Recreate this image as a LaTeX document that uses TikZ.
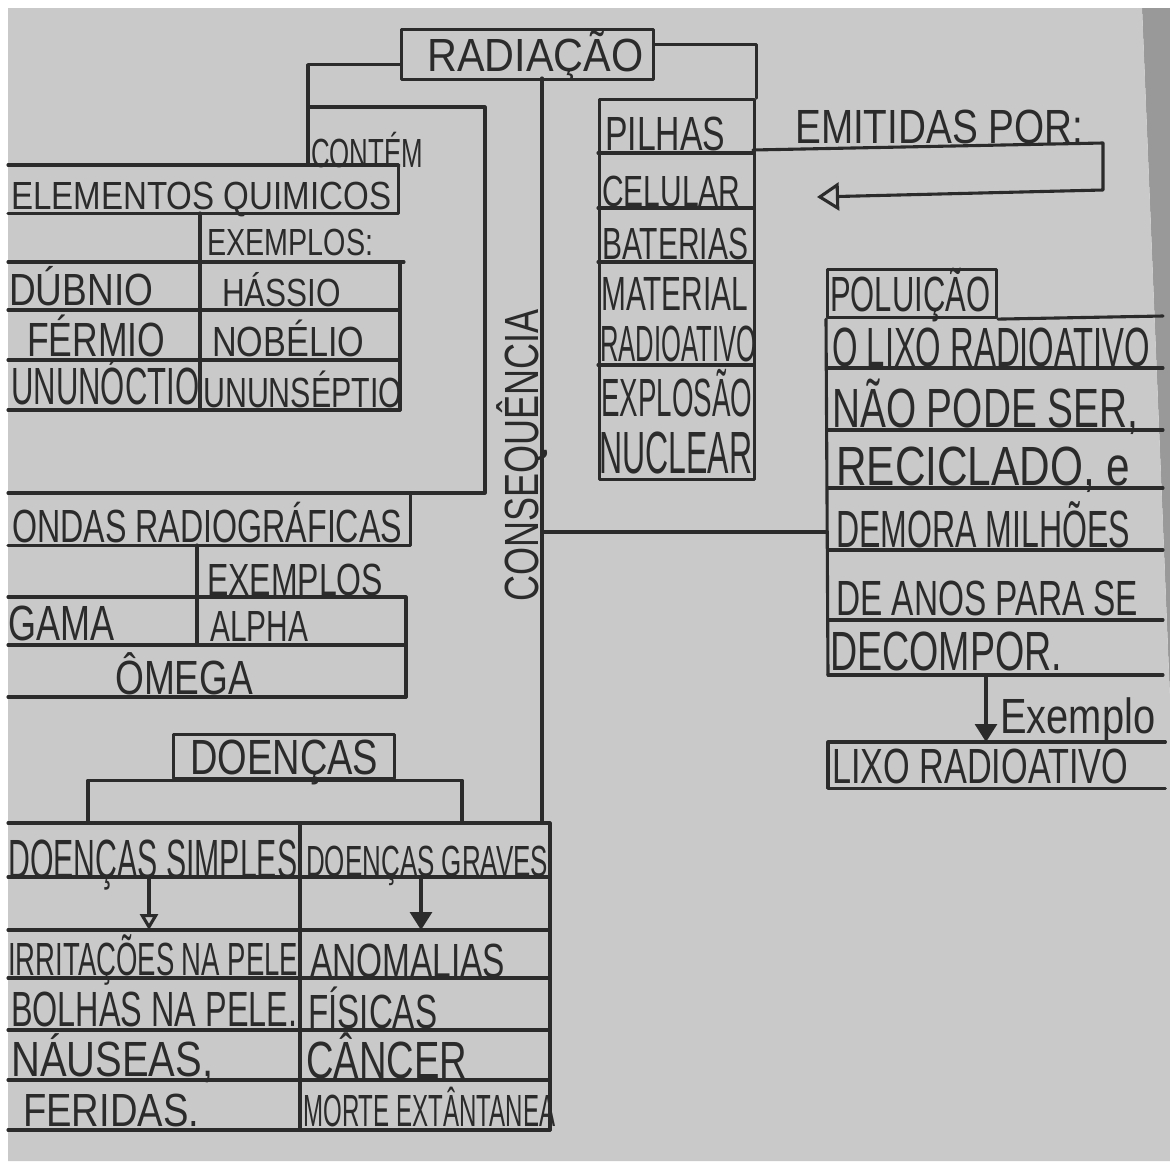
\documentclass[tikz,border=0pt]{standalone}
\usepackage{fontspec}
\setmainfont{Liberation Sans}
\usetikzlibrary{arrows.meta}
\definecolor{paper}{gray}{0.79}
\definecolor{ink}{gray}{0.17}
\definecolor{strip}{gray}{0.60}
\newcommand{\hw}[3]{\resizebox{#1pt}{#2pt}{\smash{#3}\vphantom{X}}}
\begin{document}
\begin{tikzpicture}[x=1pt,y=-1pt,
  ln/.style={draw=ink,line width=3.1pt,line cap=round,line join=round},
  tx/.style={inner sep=0pt,text=ink,anchor=south west},
  area/.style={inner sep=0pt,draw=none,anchor=north west},
  bx/.style={inner sep=0pt,ln,anchor=north west},
  opentip/.style={-{Triangle[open,length=22pt,width=28pt]}},
  filltip/.style={-{Triangle[length=18pt,width=22pt]}}]
\useasboundingbox (0,0) rectangle (1170,1167);
\fill[white] (0,0) rectangle (1170,1167);
\fill[strip] (1142,8) -- (1170,8) -- (1170,700) -- cycle;
\fill[paper] (8,8) -- (1142,8) -- (1170,700) -- (1170,1161) -- (8,1161) -- cycle;

% ---------- title ----------
\node[bx,minimum width=252pt,minimum height=50pt] (rad) at (400,28) {};
\node[tx] (trad) at (427,72) {\hw{216}{32}{RADIAÇÃO}};

% ---------- left branch: elementos ----------
\coordinate (elemtop) at (308,165);
\draw[ln] ([yshift=-10pt]rad.west) -| (elemtop);
\node[tx] (tcont) at (311,168) {\hw{112}{28}{CONTÉM}};
\node[area,minimum width=390pt,minimum height=48pt] (elem) at (8,165) {};
\draw[ln] (elem.north west) -- (elem.north east) -- (elem.south east) -- (elem.south west);
\node[tx] (telem) at (11,210) {\hw{380}{27}{ELEMENTOS QUIMICOS}};
\draw[ln] (200,213) -- (200,410);
\draw[ln] (8,262) -- (404,262);
\draw[ln] (400,262) -- (400,410);
\draw[ln] (8,310) -- (400,310);
\draw[ln] (8,360) -- (400,360);
\draw[ln] (8,410) -- (400,410);
\node[tx] (tex1) at (207,256) {\hw{166}{26}{EXEMPLOS:}};
\node[tx] (tdub) at (9,306) {\hw{144}{31}{DÚBNIO}};
\node[tx] (thas) at (222,307) {\hw{119}{27}{HÁSSIO}};
\node[tx] (tfer) at (27,357) {\hw{138}{33}{FÉRMIO}};
\node[tx] (tnob) at (212,357) {\hw{152}{29}{NOBÉLIO}};
\node[tx] (tunu) at (11,405) {\hw{188}{36}{UNUNÓCTIO}};
\node[tx] (tuns) at (203,408) {\hw{199}{29}{UNUNSÉPTIO}};

% ---------- bracket to ondas ----------
\coordinate (k1) at (308,107);
\coordinate (k2) at (485,493);
\node[area,minimum width=402pt,minimum height=52pt] (ondas) at (8,493) {};
\draw[ln] (k1) -| (k2) -- (ondas.north east);
\draw[ln] (ondas.north west) -- (ondas.north east) -- (ondas.south east) -- (ondas.south west);
\node[tx] (tond) at (12,543) {\hw{390}{32}{ONDAS RADIOGRÁFICAS}};
\draw[ln] (197,545) -- (197,645);
\draw[ln] (8,597) -- (406,597) -- (406,697);
\draw[ln] (8,645) -- (406,645);
\draw[ln] (8,697) -- (406,697);
\node[tx] (tex2) at (207,596) {\hw{176}{31}{EXEMPLOS}};
\node[tx] (tgam) at (8,641) {\hw{106}{34}{GAMA}};
\node[tx] (talp) at (210,642) {\hw{98}{30}{ALPHA}};
\node[tx] (tome) at (115,695) {\hw{138}{33}{ÔMEGA}};

% ---------- doencas ----------
\node[bx,minimum width=221pt,minimum height=44pt] (doen) at (172,733) {};
\node[tx] (tdoe) at (190,775) {\hw{188}{34}{DOENÇAS}};
\coordinate (b1) at (88,823);
\coordinate (b2) at (462,823);
\draw[ln] (b1) |- (doen.south) -| (b2);
\draw[ln] (8,823) -- (550,823) -- (550,1130);
\draw[ln] (300,823) -- (300,1130);
\foreach \yy in {877,930,978,1030,1080,1130} {\draw[ln] (8,\yy) -- (550,\yy);}
\coordinate (a1) at (149,877);
\coordinate (a2) at (149,930);
\coordinate (a3) at (421,877);
\coordinate (a4) at (421,930);
\draw[ln,-{Triangle[open,length=16pt,width=18pt]}] (a1) -- (a2);
\draw[ln,filltip] (a3) -- (a4);
\node[tx] (tds) at (8,879) {\hw{289}{38}{DOENÇAS SIMPLES}};
\node[tx] (tdg) at (306,877) {\hw{242}{30}{DOENÇAS GRAVES}};
\node[tx] (tirr) at (8,976) {\hw{290}{32}{IRRITAÇÕES NA PELE}};
\node[tx] (tano) at (310,978) {\hw{195}{33}{ANOMALIAS}};
\node[tx] (tbol) at (11,1027) {\hw{286}{34}{BOLHAS NA PELE.}};
\node[tx] (tfis) at (308,1029) {\hw{129}{33}{FÍSICAS}};
\node[tx] (tnau) at (11,1077) {\hw{202}{34}{NÁUSEAS,}};
\node[tx] (tcan) at (306,1079) {\hw{161}{36}{CÂNCER}};
\node[tx] (tfe) at (23,1127) {\hw{176}{32}{FERIDAS.}};
\node[tx] (tmor) at (303,1127) {\hw{252}{31}{MORTE EXTÂNTANEA}};

% ---------- consequencia ----------
\coordinate (cq0) at (542,78);
\coordinate (cqend) at (542,823);
\coordinate (cq) at (542,532);
\draw[ln] (cq0) -- (cqend);
\node[inner sep=0pt,text=ink,rotate=90,anchor=south west] (tcq) at (539,602) {\hw{292}{33}{CONSEQUÊNCIA}};

% ---------- column: emitidas ----------
\node[bx,minimum width=155pt,minimum height=380pt] (col) at (598,98) {};
\draw[ln] ([yshift=10pt]rad.east) -| (col.north east);
\foreach \yy in {153,208,262,365} {\draw[ln] (598,\yy) -- (753,\yy);}
\node[tx] (tpil) at (605,151) {\hw{120}{33}{PILHAS}};
\node[tx] (tcel) at (602,207) {\hw{138}{30}{CELULAR}};
\node[tx] (tbat) at (602,260) {\hw{146}{31}{BATERIAS}};
\node[tx] (tmat) at (601,311) {\hw{147}{33}{MATERIAL}};
\node[tx] (trda) at (600,362) {\hw{156}{35}{RADIOATIVO}};
\node[tx] (texp) at (601,417) {\hw{151}{37}{EXPLOSÃO}};
\node[tx] (tnuc) at (599,474) {\hw{153}{41}{NUCLEAR}};
\node[tx] (temi) at (795,144) {\hw{288}{33}{EMITIDAS POR:}};
\coordinate (e1) at (753,150);
\coordinate (e2) at (1103,143);
\coordinate (e3) at (1103,190);
\coordinate (e4) at (817,197);
\draw[ln,opentip] (e1) -- (e2) -- (e3) -- (e4);

% ---------- poluicao ----------
\node[bx,minimum width=169pt,minimum height=48pt] (polu) at (826,268) {};
\node[tx] (tpol) at (830,312) {\hw{160}{34}{POLUIÇÃO}};
\draw[ln] (cq) -- (cq -| polu.west);
\draw[ln] (polu.south west) -- (828,675);
\draw[ln] (polu.south east) -- (1163,316);
\foreach \yy in {368,430,488,550,620,675} {\draw[ln] (828,\yy) -- (1163,\yy);}
\node[tx] (tl1) at (832,367) {\hw{318}{38}{O LIXO RADIOATIVO}};
\node[tx] (tl2) at (832,428) {\hw{306}{38}{NÃO PODE SER,}};
\node[tx] (tl3) at (836,486) {\hw{294}{38}{RECICLADO, e}};
\node[tx] (tl4) at (836,548) {\hw{294}{36}{DEMORA MILHÕES}};
\node[tx] (tl5) at (836,616) {\hw{302}{34}{DE ANOS PARA SE}};
\node[tx] (tl6) at (830,671) {\hw{232}{38}{DECOMPOR.}};
\coordinate (x1) at (986,675);
\coordinate (x2) at (986,742);
\draw[ln,filltip] (x1) -- (x2);
\node[tx] (texm) at (1000,734) {\hw{155}{34}{Exemplo}};
\node[area,minimum width=337pt,minimum height=46pt] (lixo) at (828,742) {};
\draw[ln] (lixo.north east) -- (lixo.north west) -- (lixo.south west) -- (lixo.south east);
\node[tx] (tlixo) at (832,784) {\hw{296}{34}{LIXO RADIOATIVO}};
\end{tikzpicture}
\end{document}
